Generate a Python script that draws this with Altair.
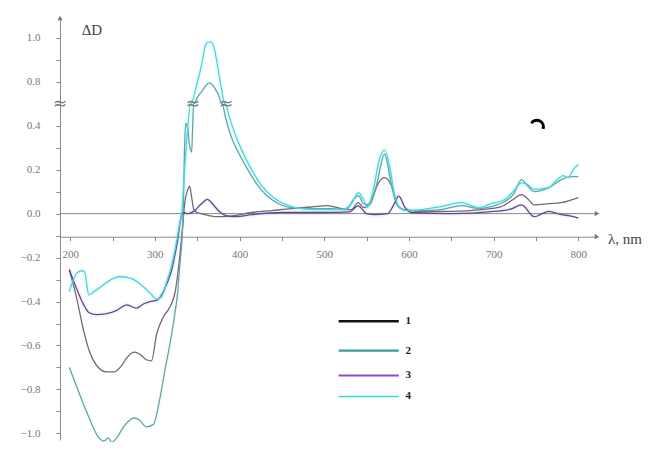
import altair as alt
import pandas as pd

# ---- data (wavelength nm, delta D) ----
curve1 = [(199,-0.255),(208,-0.39),(216,-0.535),(223,-0.63),(231,-0.69),(243,-0.72),(252,-0.72),(261,-0.69),
          (267,-0.655),(276,-0.63),(284,-0.645),(290,-0.665),(296,-0.67),(302,-0.55),(310,-0.47),(317,-0.43),
          (324,-0.355),(329,-0.21),(333,-0.05),(335,0.04),(339,0.11),(341,0.125),(343,0.085),(346,0.018),
          (350,0.005),(355,0.0),(373,-0.014),(391,-0.01),(414,0.005),(438,0.014),(461,0.023),(485,0.03),
          (503,0.036),(520,0.023),(532,0.018),(540,0.05),(547,0.027),(556,0.064),(564,0.14),(571,0.164),
          (579,0.13),(586,0.04),(594,0.018),(615,0.01),(650,0.01),(686,0.018),(709,0.032),(723,0.064),
          (733,0.086),(741,0.064),(748,0.04),(765,0.045),(780,0.05),(800,0.073)]
curve2 = [(199,-0.70),(208,-0.79),(216,-0.87),(223,-0.935),(228,-0.98),(234,-1.02),(240,-1.035),(245,-1.02),
          (249,-1.04),(255,-1.02),(263,-0.97),(269,-0.945),(275,-0.93),(282,-0.94),(290,-0.97),(298,-0.96),
          (306,-0.84),(312,-0.71),(317,-0.61),(323,-0.47),(327,-0.355),(329,-0.255),(332,-0.12),(333.5,0.0),
          (335,0.29),(336.3,0.41),(338.6,0.39),(341,0.31),(343.4,0.28),(344.5,0.38),(345.7,0.5),(346.3,0.70),
          (350.4,0.73),(355.2,0.755),(361.1,0.786),(364.6,0.795),(368.1,0.786),(371.7,0.764),(375.2,0.74),
          (378.8,0.70),(379.4,0.5),(383.5,0.436),(390.6,0.345),(398.8,0.277),(408.3,0.21),(420,0.136),
          (432,0.082),(446,0.045),(461,0.027),(485,0.023),(509,0.023),(526,0.018),(534.5,0.064),(540.4,0.082),
          (546.3,0.045),(553.4,0.04),(561.7,0.13),(571.1,0.27),(579.4,0.13),(586.4,0.04),(594.7,0.018),
          (615,0.014),(638,0.018),(662,0.036),(682,0.023),(697,0.032),(713,0.055),(723,0.086),(733,0.155),
          (740,0.127),(748,0.1),(765,0.118),(780,0.155),(792,0.168),(800,0.168)]
curve3 = [(199,-0.255),(208,-0.345),(216,-0.415),(222,-0.45),(231,-0.46),(243,-0.455),(255,-0.44),(267,-0.415),
          (278,-0.43),(287,-0.41),(294,-0.40),(302,-0.395),(308,-0.37),(314,-0.32),(320,-0.255),(323,-0.2),
          (327,-0.12),(330,-0.036),(334,0.005),(339,0.0),(346,0.01),(355,0.045),(362,0.065),(369,0.04),
          (376,0.01),(385,-0.01),(396,-0.014),(414,-0.005),(450,0.005),(500,0.005),(530,0.008),(540,0.035),
          (550,0.0),(560,-0.005),(575,0.0),(582,0.04),(588,0.08),(595,0.03),(603,0.005),(650,0.0),(700,0.01),
          (720,0.02),(733,0.04),(748,-0.014),(765,0.01),(780,-0.005),(790,-0.01),(800,-0.02)]
curve4 = [(199,-0.355),(204,-0.30),(208,-0.27),(214,-0.26),(217,-0.265),(222,-0.37),(228,-0.355),(235,-0.336),
          (243,-0.314),(251,-0.295),(258,-0.286),(267,-0.29),(275,-0.30),(282,-0.318),(290,-0.345),(296,-0.368),
          (302,-0.39),(308,-0.377),(314,-0.31),(320,-0.232),(326,-0.118),(329,-0.05),(331.6,0.0),(335.1,0.2),
          (338.6,0.38),(342.2,0.5),(342.8,0.70),(349.3,0.786),(355.2,0.877),(359.9,0.968),(363.4,0.98),
          (367,0.98),(370.5,0.945),(375.2,0.845),(378.8,0.764),(382.3,0.70),(382.9,0.5),(388.2,0.436),
          (394.1,0.368),(402.4,0.29),(414.2,0.2),(426,0.127),(440,0.073),(455.5,0.04),(473,0.023),(497,0.018),
          (520,0.018),(532,0.045),(540.4,0.095),(546.3,0.064),(551,0.027),(558,0.11),(565,0.245),(571,0.29),
          (577,0.22),(583,0.086),(589,0.027),(597,0.014),(615,0.018),(638,0.032),(662,0.05),(682,0.027),
          (697,0.045),(713,0.064),(723,0.1),(733,0.14),(740,0.132),(748,0.11),(765,0.118),(775,0.155),
          (782,0.173),(788,0.164),(794,0.2),(800,0.225)]

series_names = ["1", "2", "3", "4"]
line_colors = ["#76667a", "#5ea7a7", "#5a4a8e", "#45d6df"]
line_widths = [1.3, 1.3, 1.5, 1.4]
glow_opacity = [0.0, 0.08, 0.0, 0.16]
legend_names = ["L1", "L2", "L3", "L4"]
legend_colors = ["#111111", "#3a9c9c", "#9248d8", "#38dbe2"]
legend_widths = [2.6, 1.7, 3.2, 1.7]
legend_y = [-0.49, -0.623, -0.736, -0.832]

x_ticks = list(range(200, 801, 50))
y_ticks = [-1.0, -0.9, -0.8, -0.7, -0.6, -0.5, -0.4, -0.3, -0.2, -0.1, 0.0, 0.1, 0.2, 0.3, 0.4, 0.6, 0.7, 0.8]
X_DOM = [188, 822]
Y_DOM = [-1.03, 0.89]
X_AXIS_AT = -0.105
BREAK_LOW, BREAK_SHIFT = 0.6, 0.2
break_marks_lam = [188, 345, 384]

# ---- tables ----
rows = []
for name, pts in zip(series_names, [curve1, curve2, curve3, curve4]):
    for i, (l, v) in enumerate(pts):
        rows.append({"lam": l, "v": v, "series": name, "idx": i})
df = pd.DataFrame(rows)

W, H = 537, 422
xscale = alt.Scale(domain=X_DOM, nice=False, zero=False)
yscale = alt.Scale(domain=Y_DOM, nice=False, zero=False)
GRAY = "#8a8a8a"
xaxis = alt.Axis(values=x_ticks, labelExpr="datum.value % 100 == 0 ? datum.label : ''",
                 offset=-(H * (X_AXIS_AT - Y_DOM[0]) / (Y_DOM[1] - Y_DOM[0])),
                 domainColor=GRAY, tickColor=GRAY, tickSize=4, labelColor="#777777",
                 labelFont="Liberation Serif", labelFontSize=11, labelPadding=8, grid=False, title=None)
yaxis = alt.Axis(values=y_ticks,
                 labelExpr="round(datum.value*10) % 2 != 0 ? '' : (datum.value > 0.5 ? format(datum.value + 0.2, '.1f') : format(datum.value, '.1f'))",
                 domainColor=GRAY, tickColor=GRAY, tickSize=4, labelColor="#777777",
                 labelFont="Liberation Serif", labelFontSize=11, labelPadding=16, grid=False, title=None)

def X(f="lam"):
    return alt.X(f + ":Q", scale=xscale, axis=xaxis)

def Y(f="yd"):
    return alt.Y(f + ":Q", scale=yscale, axis=yaxis)

base = alt.Chart(df).transform_calculate(
    yd=f"datum.v >= {BREAK_LOW} ? datum.v - {BREAK_SHIFT} : datum.v"
)
glow = base.mark_line(interpolate="monotone", strokeWidth=5).encode(
    x=X(), y=Y(),
    color=alt.Color("series:N", scale=alt.Scale(domain=series_names, range=line_colors), legend=None),
    opacity=alt.Opacity("series:N", scale=alt.Scale(domain=series_names, range=glow_opacity), legend=None),
    order="idx:Q",
)
lines = base.mark_line(interpolate="monotone").encode(
    x=X(), y=Y(),
    color=alt.Color("series:N", scale=alt.Scale(domain=series_names, range=line_colors), legend=None),
    strokeWidth=alt.StrokeWidth("series:N", scale=alt.Scale(domain=series_names, range=line_widths), legend=None),
    order="idx:Q",
)

zero_df = pd.DataFrame({"lam": [X_DOM[0]], "lam2": [X_DOM[1] - 2], "yd": [0.0]})
zero_line = alt.Chart(zero_df).mark_rule(color=GRAY, strokeWidth=1).encode(x=X(), x2="lam2:Q", y=Y())

arrow_df = pd.DataFrame({"lam": [X_DOM[1], X_DOM[1], X_DOM[0]],
                         "yd": [X_AXIS_AT, 0.0, Y_DOM[1]],
                         "shape": ["triangle-right", "triangle-right", "triangle-up"]})
arrows = alt.Chart(arrow_df).mark_point(filled=True, size=28, color="#777777", opacity=1).encode(
    x=X(), y=Y(), shape=alt.Shape("shape:N", scale=None))

brk_df = pd.DataFrame({"lam": break_marks_lam, "yd": [0.5] * len(break_marks_lam)})
brks = alt.Chart(brk_df).mark_text(text="≈", fontSize=17, color="#777777", font="DejaVu Sans",
                                   baseline="middle").encode(x=X(), y=Y())

leg_df = pd.DataFrame({"name": legend_names, "label": series_names, "lam": [517] * 4, "lam2": [588] * 4,
                       "lamt": [596] * 4, "yd": legend_y})
leg_lines = alt.Chart(leg_df).mark_rule().encode(
    x=X(), x2="lam2:Q", y=Y(),
    stroke=alt.Stroke("name:N", scale=alt.Scale(domain=legend_names, range=legend_colors), legend=None),
    size=alt.Size("name:N", scale=alt.Scale(domain=legend_names, range=legend_widths), legend=None),
)
leg_text = alt.Chart(leg_df).mark_text(align="left", baseline="middle", fontSize=11, fontWeight="bold",
                                       font="Liberation Serif", color="#222222").encode(
    x=X("lamt"), y=Y(), text="label:N")

lab_df = pd.DataFrame({"lam": [213.6, X_DOM[1]], "yd": [0.836, -0.115], "t": ["ΔD", "λ, nm"]})
lab1 = alt.Chart(lab_df.iloc[[0]]).mark_text(align="left", baseline="middle", fontSize=15,
                                             font="Liberation Serif", color="#444444").encode(
    x=X(), y=Y(), text="t:N")
lab2 = alt.Chart(lab_df.iloc[[1]]).mark_text(align="left", baseline="middle", fontSize=15, dx=11,
                                             font="Liberation Serif", color="#444444").encode(
    x=X(), y=Y(), text="t:N")

arc_df = pd.DataFrame({"lam": [751.0], "yd": [0.395]})
arc = alt.Chart(arc_df).mark_arc(radius=8, radius2=5, theta=5.28, theta2=8.18, color="#000000").encode(
    x=X(), y=Y())

chart = alt.layer(zero_line, glow, lines, brks, arrows, leg_lines, leg_text, lab1, lab2, arc).resolve_scale(
    color="independent", strokeWidth="independent", stroke="independent", size="independent",
    opacity="independent"
).properties(
    width=W, height=H,
    autosize=alt.AutoSizeParams(type="none"),
    padding={"left": 52, "top": 10, "right": 48, "bottom": 2},
    background="white",
).configure_view(stroke=None)

chart.save("out.html", embed_options={"renderer": "svg", "actions": False})
